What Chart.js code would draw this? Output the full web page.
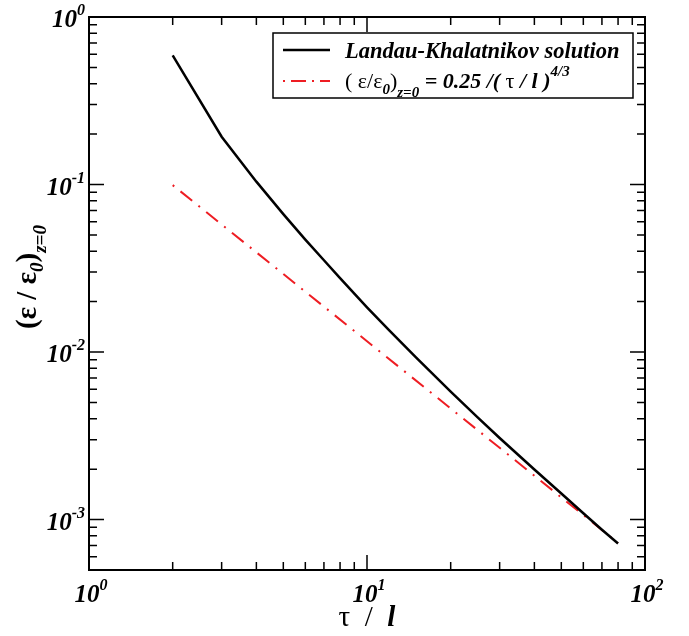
<!DOCTYPE html>
<html>
<head>
<meta charset="utf-8">
<script src="https://cdn.jsdelivr.net/npm/chart.js@4.4.1/dist/chart.umd.min.js"></script>
<style>
  html, body { margin: 0; padding: 0; background: #fff; }
</style>
</head>
<body>
<canvas id="c" width="689" height="636"></canvas>
<script>
// values
const tau = [2, 3, 4, 5, 6, 7, 8, 10, 12, 15, 20, 25, 30, 40, 50, 60, 70, 80]
const lkSolution = [0.59, 0.193, 0.104, 0.0666, 0.0469, 0.0353, 0.0276, 0.0185, 0.0135, 0.0093, 0.0058, 0.00407, 0.00307, 0.00199, 0.00143, 0.00109, 0.00087, 0.00072]
const fitTau = [2, 80]
const fitValues = [0.0992, 0.000725]
const xTicks = [1, 10, 100]
const xTickExp = ['0', '1', '2']
const yTicks = [1, 0.1, 0.01, 0.001]
const yTickExp = ['0', '-1', '-2', '-3']

const SERIF = '"Liberation Serif", "Times New Roman", serif'
const BI = s => `italic bold ${s}px ${SERIF}`
const B = s => `bold ${s}px ${SERIF}`
const R = s => `${s}px ${SERIF}`
const fitColor = '#ee1d23'

const drawRuns = (ctx, runs, x, y, align) => {
  let w = 0
  runs.forEach(r => { ctx.font = r.font; r.w = ctx.measureText(r.t).width; w += r.w })
  let cx = align === 'center' ? x - w / 2 : align === 'right' ? x - w : x
  ctx.textAlign = 'left'
  ctx.textBaseline = 'alphabetic'
  runs.forEach(r => {
    ctx.font = r.font
    ctx.fillText(r.t, cx, y + (r.dy || 0))
    cx += r.w
  })
}

// minor tick values per decade
const minorTicks = (lo, hi) => {
  const out = []
  for (let d = Math.floor(Math.log10(lo)); d <= Math.ceil(Math.log10(hi)); d++) {
    for (let k = 2; k <= 9; k++) {
      const v = k * Math.pow(10, d)
      if (v > lo && v < hi) out.push(v)
    }
  }
  return out
}

const framePlugin = {
  id: 'frame',
  afterDatasetsDraw (chart) {
    const { ctx, chartArea: a, scales } = chart
    const xs = scales.x
    const ys = scales.y
    ctx.save()
    ctx.strokeStyle = '#000'
    ctx.fillStyle = '#000'

    // inward ticks on all four sides
    ctx.lineWidth = 1.5
    const tick = (px, len, vertical) => {
      ctx.beginPath()
      if (vertical) {
        ctx.moveTo(px, a.bottom); ctx.lineTo(px, a.bottom - len)
        ctx.moveTo(px, a.top); ctx.lineTo(px, a.top + len)
      } else {
        ctx.moveTo(a.left, px); ctx.lineTo(a.left + len, px)
        ctx.moveTo(a.right, px); ctx.lineTo(a.right - len, px)
      }
      ctx.stroke()
    }
    xTicks.forEach(v => tick(xs.getPixelForValue(v), 15, true))
    minorTicks(xs.min, xs.max).forEach(v => tick(xs.getPixelForValue(v), 8, true))
    yTicks.forEach(v => tick(ys.getPixelForValue(v), 15, false))
    minorTicks(ys.min, ys.max).forEach(v => tick(ys.getPixelForValue(v), 8, false))

    ctx.lineWidth = 2
    ctx.strokeRect(a.left, a.top, a.right - a.left, a.bottom - a.top)

    // tick labels
    xTicks.forEach((v, i) => {
      drawRuns(ctx, [{ t: '10', font: BI(25) }, { t: xTickExp[i], font: BI(16), dy: -12 }],
        xs.getPixelForValue(v) + 2, a.bottom + 32, 'center')
    })
    yTicks.forEach((v, i) => {
      drawRuns(ctx, [{ t: '10', font: BI(25) }, { t: yTickExp[i], font: BI(16), dy: -12 }],
        a.left - 4, ys.getPixelForValue(v) + 10, 'right')
    })

    // axis titles
    drawRuns(ctx, [{ t: 'τ  /  ', font: R(29) }, { t: 'l', font: BI(29) }],
      (a.left + a.right) / 2, a.bottom + 56, 'center')
    ctx.save()
    ctx.translate(36, 277)
    ctx.rotate(-Math.PI / 2)
    drawRuns(ctx, [
      { t: '(ε / ε', font: B(29) },
      { t: '0', font: BI(19), dy: 7 },
      { t: ')', font: B(29) },
      { t: 'z=0', font: BI(19), dy: 10 }
    ], 0, 0, 'center')
    ctx.restore()

    // legend box
    const lx = 273, ly = 33, lw = 360, lh = 65
    ctx.fillStyle = '#fff'
    ctx.fillRect(lx, ly, lw, lh)
    ctx.lineWidth = 1.5
    ctx.strokeRect(lx, ly, lw, lh)
    ctx.fillStyle = '#000'

    ctx.lineWidth = 2.5
    ctx.strokeStyle = '#000'
    ctx.beginPath(); ctx.moveTo(283, 50); ctx.lineTo(330, 50); ctx.stroke()
    ctx.lineWidth = 2
    ctx.strokeStyle = fitColor
    ctx.setLineDash([2, 6, 15, 6])
    ctx.beginPath(); ctx.moveTo(283, 81); ctx.lineTo(330, 81); ctx.stroke()
    ctx.setLineDash([])

    drawRuns(ctx, [{ t: 'Landau-Khalatnikov solution', font: BI(22.5) }], 345, 58, 'left')
    drawRuns(ctx, [
      { t: '( ε/ε', font: R(22) },
      { t: '0', font: BI(15), dy: 6 },
      { t: ')', font: R(22) },
      { t: 'z=0', font: BI(15), dy: 9 },
      { t: ' = 0.25 /( ', font: BI(22) },
      { t: 'τ', font: R(22) },
      { t: ' / l )', font: BI(22) },
      { t: '4/3', font: BI(15), dy: -12 }
    ], 345, 88, 'left')
    ctx.restore()
  }
}

const ctx = document.getElementById('c').getContext('2d')
new Chart(ctx, {
  type: 'line',
  data: {
    datasets: [
      {
        label: 'Landau-Khalatnikov solution',
        data: tau.map((t, i) => ({ x: t, y: lkSolution[i] })),
        borderColor: '#000',
        borderWidth: 2.5,
        pointRadius: 0,
        tension: 0
      },
      {
        label: 'fit',
        data: fitTau.map((t, i) => ({ x: t, y: fitValues[i] })),
        borderColor: fitColor,
        borderWidth: 2,
        borderDash: [2, 8, 15, 8],
        pointRadius: 0,
        tension: 0
      }
    ]
  },
  options: {
    responsive: false,
    animation: false,
    layout: { padding: { left: 89, right: 44, top: 17, bottom: 66 } },
    plugins: { legend: { display: false }, tooltip: { enabled: false } },
    scales: {
      x: { type: 'logarithmic', min: 1, max: 100, display: false },
      y: { type: 'logarithmic', min: 5e-4, max: 1, display: false }
    }
  },
  plugins: [framePlugin]
})
</script>
</body>
</html>
